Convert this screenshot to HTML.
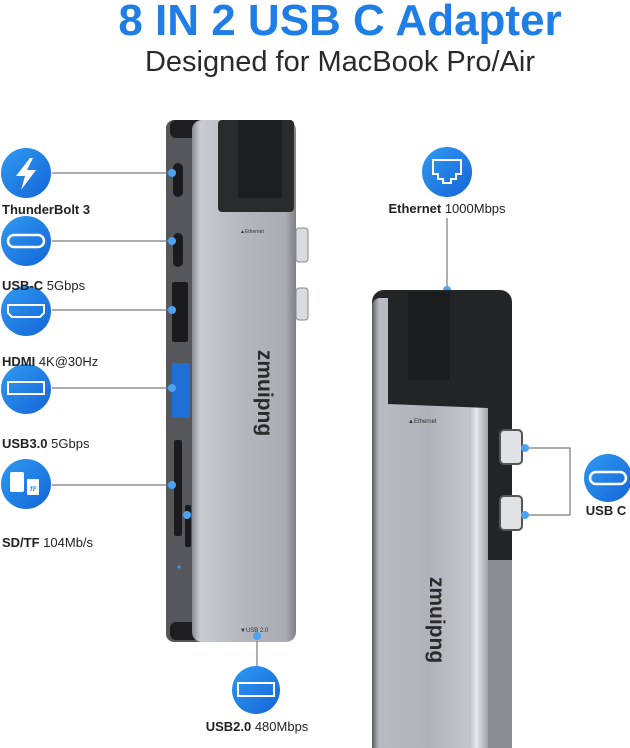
<!DOCTYPE html>
<html><head><meta charset="utf-8"><style>
html,body{margin:0;padding:0;background:#fff;}
svg{display:block;}
text{font-family:"Liberation Sans",Arial,sans-serif;}
</style></head><body>
<svg width="630" height="748" viewBox="0 0 630 748" xmlns="http://www.w3.org/2000/svg">
<defs>
<linearGradient id="ic" x1="0" y1="0" x2="1" y2="1">
<stop offset="0" stop-color="#2f9af0"/><stop offset="1" stop-color="#1565d8"/></linearGradient>
<linearGradient id="sil" x1="0" y1="0" x2="1" y2="0">
<stop offset="0" stop-color="#8a8d93"/><stop offset="0.08" stop-color="#c9ccd1"/><stop offset="0.5" stop-color="#b4b7bd"/><stop offset="0.9" stop-color="#a9acb2"/><stop offset="1" stop-color="#7e8188"/></linearGradient>
<linearGradient id="sil2" x1="0" y1="0" x2="1" y2="0">
<stop offset="0" stop-color="#5a5c60"/><stop offset="0.06" stop-color="#b8bbc0"/><stop offset="0.5" stop-color="#b0b3b9"/><stop offset="0.85" stop-color="#c3c6cb"/><stop offset="0.9" stop-color="#e6e8ea"/><stop offset="1" stop-color="#9ea1a6"/></linearGradient>
</defs>

<text x="340" y="35" font-size="44" font-weight="bold" fill="#1f7ee6" text-anchor="middle">8 IN 2 USB C Adapter</text>
<text x="340" y="71" font-size="29" fill="#2a2a2a" text-anchor="middle">Designed for MacBook Pro/Air</text>

<!-- left device -->
<rect x="166" y="120" width="42" height="522" rx="8" fill="#55575b"/>
<rect x="170" y="120" width="34" height="18" rx="6" fill="#1e1e20"/>
<rect x="170" y="622" width="34" height="18" rx="6" fill="#1e1e20"/>
<rect x="192" y="120" width="104" height="522" rx="10" fill="url(#sil)"/>
<rect x="218" y="120" width="76" height="92" rx="4" fill="#2a2b2d"/>
<rect x="238" y="120" width="44" height="78" rx="2" fill="#1d1e20"/>
<text x="240" y="233" font-size="5" fill="#333">▲Ethernet</text>
<rect x="296" y="228" width="12" height="34" rx="3" fill="#d9dbde" stroke="#888" stroke-width="1"/>
<rect x="296" y="288" width="12" height="32" rx="3" fill="#d9dbde" stroke="#888" stroke-width="1"/>
<text x="258" y="393" font-size="21" font-weight="bold" fill="#2a2a2a" text-anchor="middle" transform="rotate(90 258 393)">zmuipng</text>
<text x="240" y="632" font-size="6" fill="#333">▼USB 2.0</text>
<!-- ports -->
<rect x="173" y="163" width="10" height="34" rx="5" fill="#1b1b1d"/>
<rect x="173" y="233" width="10" height="34" rx="5" fill="#1b1b1d"/>
<rect x="172" y="282" width="16" height="60" rx="2" fill="#1b1b1d"/>
<rect x="172" y="363" width="18" height="55" rx="2" fill="#1f6fd6"/>
<rect x="174" y="440" width="8" height="96" rx="2" fill="#1b1b1d"/>
<rect x="185" y="505" width="6" height="42" rx="2" fill="#1b1b1d"/>
<circle cx="179" cy="567" r="1.5" fill="#3da0ff"/>

<g stroke="#7a7a7a" stroke-width="1.2">
<line x1="52" y1="173" x2="172" y2="173"/>
<line x1="52" y1="241" x2="172" y2="241"/>
<line x1="52" y1="310" x2="172" y2="310"/>
<line x1="52" y1="388" x2="172" y2="388"/>
<line x1="52" y1="485" x2="172" y2="485"/>
<line x1="257" y1="641" x2="257" y2="667"/>
<line x1="447" y1="218" x2="447" y2="290"/>
<polyline points="525,448 570,448 570,515 525,515" fill="none"/>
</g>
<g fill="#4aa3f5">
<circle cx="172" cy="173" r="4"/><circle cx="172" cy="241" r="4"/><circle cx="172" cy="310" r="4"/><circle cx="172" cy="388" r="4"/><circle cx="172" cy="485" r="4"/><circle cx="187" cy="515" r="4"/>
<circle cx="257" cy="636" r="4"/><circle cx="447" cy="290" r="4"/>
</g>

<g fill="url(#ic)">
<circle cx="26" cy="173" r="25"/><circle cx="26" cy="241" r="25"/><circle cx="26" cy="311" r="25"/><circle cx="26" cy="389" r="25"/><circle cx="26" cy="484" r="25"/>
<circle cx="447" cy="172" r="25"/><circle cx="608" cy="478" r="24"/><circle cx="256" cy="690" r="24"/>
</g>
<g fill="none" stroke="#fff" stroke-width="2.5">
<polygon points="30,158 16,176 25,176 21,190 36,170 27,170 33,158" fill="#fff" stroke="none"/>
<rect x="8" y="235" width="36" height="12" rx="6"/>
<path d="M8 305 h36 v8 l-4 4 h-28 l-4 -4z" stroke-width="2"/>
<rect x="8" y="382" width="36" height="12" stroke-width="2"/>
<rect x="590" y="472" width="36" height="12" rx="6"/>
<rect x="238" y="683" width="36" height="13" stroke-width="2"/>
<path d="M433 160 h28 v14 h-5 v5 h-5 v4 h-8 v-4 h-5 v-5 h-5z" stroke-width="2"/>
</g>
<rect x="10" y="472" width="14" height="20" rx="2" fill="#fff"/>
<rect x="27" y="479" width="12" height="16" fill="#fff"/>
<text x="33" y="491" font-size="6" font-style="italic" font-weight="bold" fill="#1f7ee6" text-anchor="middle">TF</text>

<g font-size="13" fill="#222">
<text x="2" y="214"><tspan font-weight="bold">ThunderBolt 3</tspan></text>
<text x="2" y="290"><tspan font-weight="bold">USB-C</tspan> 5Gbps</text>
<text x="2" y="366"><tspan font-weight="bold">HDMI</tspan> 4K@30Hz</text>
<text x="2" y="448"><tspan font-weight="bold">USB3.0</tspan> 5Gbps</text>
<text x="2" y="547"><tspan font-weight="bold">SD/TF</tspan> 104Mb/s</text>
<text x="447" y="213" text-anchor="middle"><tspan font-weight="bold">Ethernet</tspan> 1000Mbps</text>
<text x="606" y="515" text-anchor="middle" font-weight="bold">USB C</text>
<text x="257" y="731" text-anchor="middle"><tspan font-weight="bold">USB2.0</tspan> 480Mbps</text>
</g>

<!-- right device -->
<rect x="372" y="290" width="140" height="470" rx="12" fill="#232426"/>
<rect x="487" y="560" width="25" height="200" fill="#8a8c90"/>
<rect x="372" y="298" width="116" height="460" rx="8" fill="url(#sil2)"/>
<path d="M388 290 H498 a14 14 0 0 1 14 14 V412 H488 V408 L388 404 Z" fill="#232426"/>
<rect x="408" y="292" width="42" height="88" rx="2" fill="#1b1c1e"/>
<text x="408" y="423" font-size="6" fill="#333">▲Ethernet</text>
<rect x="500" y="430" width="22" height="34" rx="4" fill="#e0e2e5" stroke="#555" stroke-width="2"/>
<rect x="500" y="496" width="22" height="34" rx="4" fill="#e0e2e5" stroke="#555" stroke-width="2"/>
<circle cx="525" cy="448" r="4" fill="#4aa3f5"/><circle cx="525" cy="515" r="4" fill="#4aa3f5"/>
<text x="430" y="620" font-size="21" font-weight="bold" fill="#2a2a2a" text-anchor="middle" transform="rotate(90 430 620)">zmuipng</text>
</svg>
</body></html>
